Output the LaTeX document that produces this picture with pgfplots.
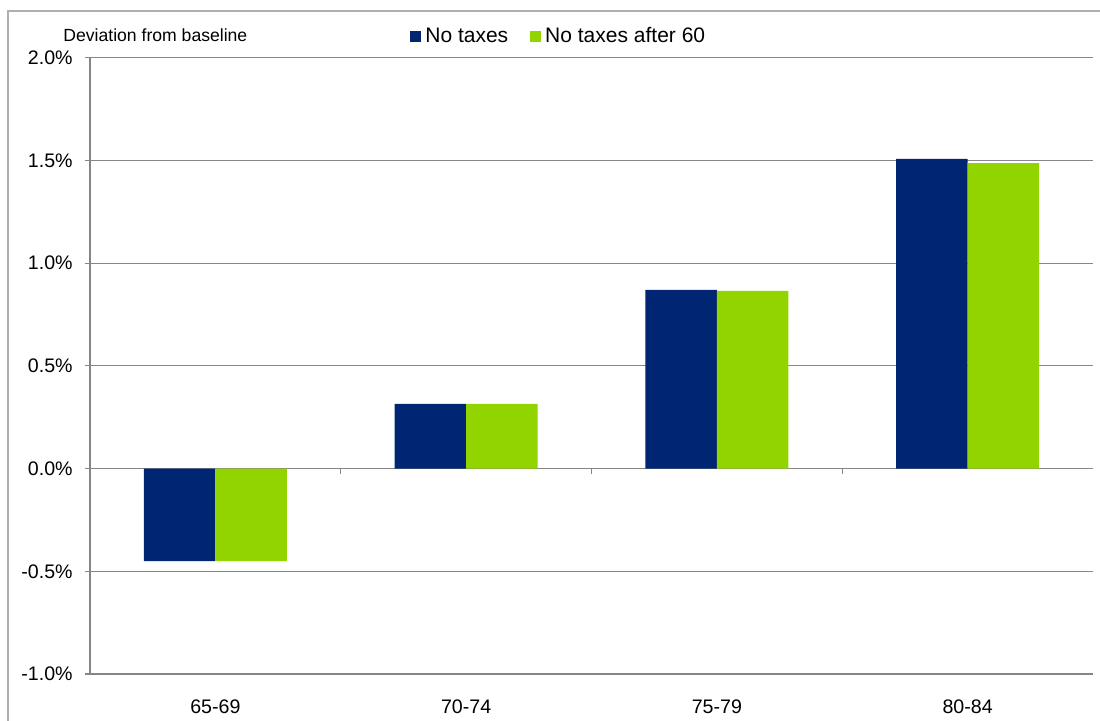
\documentclass[border=0pt]{standalone}
\usepackage{pgfplots}
\pgfplotsset{compat=1.18}
\usepackage{fontspec}
\setmainfont{Liberation Sans}

\definecolor{navy}{RGB}{0,38,115}
\definecolor{lime}{RGB}{146,212,0}
\definecolor{gridgray}{RGB}{134,134,134}
\definecolor{framegray}{RGB}{175,175,175}

\begin{document}
\begin{tikzpicture}
\useasboundingbox (0,0) rectangle (550pt,360pt);
% chart frame (only top and left edges visible)
\draw[framegray, line width=0.7pt] (4pt,-2pt) -- (4pt,354.5pt) -- (552pt,354.5pt);

\node[anchor=base west, inner sep=0pt, font=\fontsize{8.8}{10}\selectfont] at (31.5pt,339.5pt) {Deviation from baseline};

\begin{axis}[
  at={(45pt,23pt)}, anchor=south west,
  scale only axis, width=501.5pt, height=308.15pt,
  xmin=-0.5, xmax=3.5, ymin=-1.0, ymax=2.0,
  ybar=0pt, bar width=35.75pt,
  axis lines*=left,
  axis line style={gridgray, line width=0.6pt},
  xtick={0,1,2,3},
  xticklabels={65-69,70-74,75-79,80-84},
  xtick style={draw=none},
  xticklabel style={font=\fontsize{9.8}{11}\selectfont, inner sep=0pt, anchor=north, yshift=-10pt},
  ytick={-1,-0.5,0,0.5,1,1.5,2},
  yticklabels={-1.0\%,-0.5\%,0.0\%,0.5\%,1.0\%,1.5\%,2.0\%},
  yticklabel style={font=\fontsize{9.8}{11}\selectfont, inner sep=0pt, xshift=-6pt},
  ytick style={gridgray, line width=0.6pt},
  tick align=outside, major tick length=2.5pt,
  ymajorgrids, grid style={gridgray, line width=0.6pt},
  legend style={draw=none, fill=none, at={(axis description cs:0.319,1.034)}, anchor=west,
    inner sep=0pt, font=\fontsize{10.5}{12}\selectfont,
    /tikz/every even column/.append style={column sep=9pt}},
  legend columns=2,
  legend image code/.code={\fill[#1] (0pt,-2.75pt) rectangle (5.5pt,2.75pt);},
]
\addplot[fill=navy, draw=none] coordinates {(0,-0.450) (1,0.315) (2,0.870) (3,1.507)};
\addplot[fill=lime, draw=none] coordinates {(0,-0.450) (1,0.315) (2,0.865) (3,1.487)};
\legend{No taxes, No taxes after 60}
% category separator ticks on the zero line
\draw[gridgray, line width=0.6pt] (axis cs:0.5,0) -- ([yshift=-2.5pt]axis cs:0.5,0);
\draw[gridgray, line width=0.6pt] (axis cs:1.5,0) -- ([yshift=-2.5pt]axis cs:1.5,0);
\draw[gridgray, line width=0.6pt] (axis cs:2.5,0) -- ([yshift=-2.5pt]axis cs:2.5,0);
\end{axis}
\end{tikzpicture}
\end{document}
